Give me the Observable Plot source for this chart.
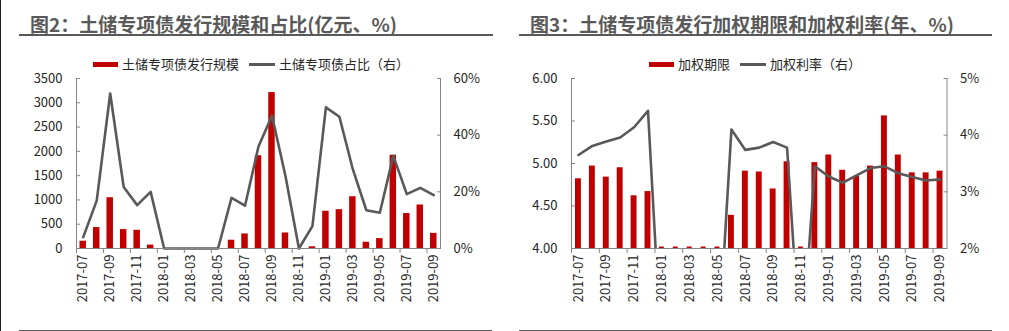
<!DOCTYPE html>
<html><head><meta charset="utf-8">
<script src="https://cdn.jsdelivr.net/npm/d3@7"></script>
<script src="https://cdn.jsdelivr.net/npm/@observablehq/plot@0.6"></script>
<style>
body{margin:0;background:#fff;width:1009px;height:331px;position:relative;overflow:hidden;font-family:"Noto Sans CJK SC","Noto Sans",sans-serif;}
.edge{position:absolute;left:0;top:0;width:1px;height:331px;background:#222;}
.title{position:absolute;top:12px;font-size:19px;font-weight:bold;color:#595959;white-space:nowrap;line-height:24px;}
.trule{position:absolute;top:34px;height:2px;background:#595959;}
.brule{position:absolute;top:330px;height:1px;background:#595959;}
.legend{position:absolute;top:55px;font-size:13px;color:#262626;display:flex;align-items:center;white-space:nowrap;line-height:18px;}
.sw-bar{display:inline-block;width:25px;height:5px;background:#C00000;margin-right:4px}
.sw-line{display:inline-block;width:26px;height:3px;background:#595959;margin-right:4px;margin-left:10px}
.chart{position:absolute;top:70px;}
</style></head>
<body>
<div class="edge"></div>
<div class="title" style="left:30px">图2：土储专项债发行规模和占比(亿元、%)</div>
<div class="trule" style="left:19px;width:474px"></div>
<div class="brule" style="left:19px;width:473px"></div>
<div class="legend" style="left:93px"><span class="sw-bar"></span><span id="l1a"></span><span class="sw-line"></span><span id="l1b"></span></div>
<div class="chart" id="c1" style="left:0px"></div>

<div class="title" style="left:530px">图3：土储专项债发行加权期限和加权利率(年、%)</div>
<div class="trule" style="left:519px;width:473px"></div>
<div class="brule" style="left:519px;width:473px"></div>
<div class="legend" style="left:649px"><span class="sw-bar"></span><span id="l2a"></span><span class="sw-line"></span><span id="l2b"></span></div>
<div class="chart" id="c2" style="left:505px"></div>
<script>
const months = ["2017-07","2017-08","2017-09","2017-10","2017-11","2017-12","2018-01","2018-02","2018-03","2018-04","2018-05","2018-06","2018-07","2018-08","2018-09","2018-10","2018-11","2018-12","2019-01","2019-02","2019-03","2019-04","2019-05","2019-06","2019-07","2019-08","2019-09"];
const issueScale = [150,430,1045,390,375,70,0,0,0,0,0,170,300,1910,3210,320,0,35,767,800,1066,129,204,1920,720,896,312];
const issueShare = [4,16.9,54.7,21.7,15.3,20,0,0,0,0,0,17.9,15.1,36,46.9,25.6,0,7.9,49.8,46.5,27.9,13.5,12.6,32.7,19.2,21.4,18.8];
const avgTerm = [4.82,4.97,4.84,4.95,4.62,4.67,0,0,0,0,0,4.39,4.91,4.90,4.70,5.02,0,5.01,5.10,4.92,4.85,4.97,5.56,5.10,4.89,4.89,4.91];
const avgRate = [3.65,3.81,3.89,3.96,4.14,4.43,0,0,0,0,0,4.10,3.74,3.78,3.88,3.78,0,3.45,3.27,3.16,3.29,3.42,3.45,3.33,3.26,3.20,3.22];
const leftTicks1 = [0,500,1000,1500,2000,2500,3000,3500];
const rightTicks1 = [0,20,40,60];
const leftTicks2 = [4.0,4.5,5.0,5.5,6.0];
const rightTicks2 = [2,3,4,5];
const legend1 = ["土储专项债发行规模","土储专项债占比（右）"];
const legend2 = ["加权期限","加权利率（右）"];

document.getElementById("l1a").textContent = legend1[0];
document.getElementById("l1b").textContent = legend1[1];
document.getElementById("l2a").textContent = legend2[0];
document.getElementById("l2b").textContent = legend2[1];

const RED = "#C00000", LINE = "#595959", AXIS = "#868686", TXT = "#262626";
const idx = d3.range(months.length);
const n = months.length;
const tickPos = d3.range(0, n, 2);
const style = {fontSize: "13px", fontFamily: '"Noto Sans CJK SC","Noto Sans",sans-serif', color: TXT, overflow: "visible", background: "transparent"};

function xAxes() {
  return [
    Plot.axisX({ticks: tickPos, tickFormat: () => "", tickSize: 5, stroke: AXIS, label: null}),
    Plot.axisX({ticks: tickPos.map(i => i + 0.5), tickFormat: d => months[Math.floor(d)], tickSize: 0, tickPadding: 6, tickRotate: -90, label: null, fill: TXT})
  ];
}

// Chart 1
const k1 = leftTicks1[leftTicks1.length - 1] / rightTicks1[rightTicks1.length - 1];
const c1 = Plot.plot({
  width: 505, height: 250, marginLeft: 76, marginRight: 65, marginTop: 8, marginBottom: 72,
  style,
  x: {domain: [0, n]},
  y: {domain: [0, 3500]},
  marks: [
    Plot.rectY(idx, {x1: i => i, x2: i => i + 1, y1: 0, y2: i => issueScale[i], fill: RED, insetLeft: 3.5, insetRight: 3.5}),
    Plot.lineY(idx, {x: i => i + 0.5, y: i => issueShare[i] * k1, stroke: LINE, strokeWidth: 2.6}),
    Plot.ruleX([0, n], {stroke: AXIS}),
    Plot.ruleY([0], {stroke: AXIS}),
    Plot.axisY({ticks: leftTicks1, tickFormat: d => String(d), tickSize: -4, tickPadding: 18, stroke: AXIS, fill: TXT, label: null}),
    Plot.axisY({anchor: "right", ticks: rightTicks1.map(v => v * k1), tickFormat: d => Math.round(d / k1) + "%", tickSize: -4, tickPadding: 17, stroke: AXIS, fill: TXT, label: null}),
    ...xAxes()
  ]
});
document.getElementById("c1").appendChild(c1);

// Chart 2
const toLeft = r => 4 + (r - 2) * (6 - 4) / (5 - 2);
const c2 = Plot.plot({
  width: 504, height: 250, marginLeft: 66, marginRight: 62.5, marginTop: 8, marginBottom: 72,
  style,
  x: {domain: [0, n]},
  y: {domain: [4, 6]},
  marks: [
    Plot.rectY(idx.filter(i => avgTerm[i] > 0), {x1: i => i, x2: i => i + 1, y1: 4, y2: i => avgTerm[i], fill: RED, insetLeft: 4, insetRight: 4}),
    Plot.ruleY(idx.filter(i => avgTerm[i] === 0), {y: 4, x1: i => i, x2: i => i + 1, insetLeft: 4.5, insetRight: 4.5, stroke: RED, strokeWidth: 2, dy: -1}),
    Plot.lineY(idx, {x: i => i + 0.5, y: i => toLeft(avgRate[i]), stroke: LINE, strokeWidth: 2.6, clip: true}),
    Plot.ruleX([0, n], {stroke: AXIS}),
    Plot.ruleY([4], {stroke: AXIS}),
    Plot.axisY({ticks: leftTicks2, tickFormat: d => d.toFixed(2), tickSize: -4, tickPadding: 18, stroke: AXIS, fill: TXT, label: null}),
    Plot.axisY({anchor: "right", ticks: rightTicks2.map(toLeft), tickFormat: d => Math.round((d - 4) * 3 / 2 + 2) + "%", tickSize: -4, tickPadding: 17, stroke: AXIS, fill: TXT, label: null}),
    ...xAxes()
  ]
});
document.getElementById("c2").appendChild(c2);
</script>
</body></html>
